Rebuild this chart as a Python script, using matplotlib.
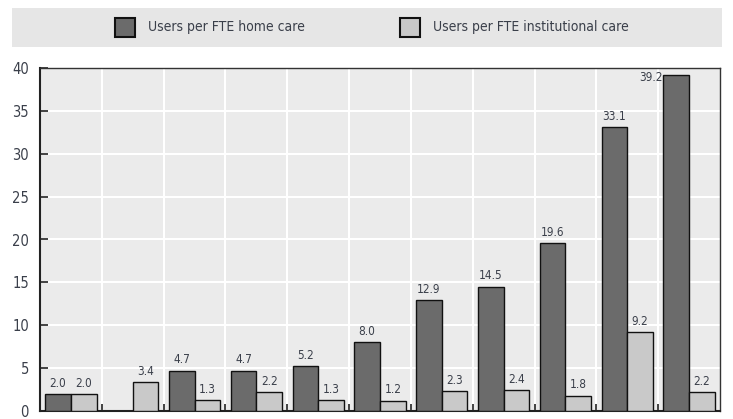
import numpy as np
import matplotlib
matplotlib.use("Agg")
import matplotlib.pyplot as plt
from matplotlib.patches import Rectangle

plt.rcParams['font.family'] = ['DejaVu Sans']
plt.rcParams['font.stretch'] = 'condensed'

# data (country labels are not shown in the picture)
groups = list(range(11))
home_care = [2.0, np.nan, 4.7, 4.7, 5.2, 8.0, 12.9, 14.5, 19.6, 33.1, 39.2]
inst_care = [2.0, 3.4, 1.3, 2.2, 1.3, 1.2, 2.3, 2.4, 1.8, 9.2, 2.2]
series_names = ['Users per FTE home care', 'Users per FTE institutional care']
yticks = [0, 5, 10, 15, 20, 25, 30, 35, 40]

dark = '#6b6b6b'
light = '#c9c9c9'
txt = '#3a3f4a'

fig = plt.figure(figsize=(7.33, 4.19), dpi=100)
ax = fig.add_axes([40/733, 1-411/419, 680/733, 343/419])
ax.set_facecolor('#ebebeb')

x = np.array(groups, dtype=float)
w = 0.415
ax.bar(x + 0.085, home_care, w, align='edge', color=dark, edgecolor='#111111', linewidth=1.0, zorder=3)
ax.bar(x + 0.085 + w, inst_care, w, align='edge', color=light, edgecolor='#111111', linewidth=1.0, zorder=3)

# value labels
for i, v in enumerate(home_care):
    if np.isnan(v):
        continue
    if v > 38:
        # no room above the last bar, label goes to its left
        ax.text(x[i] + 0.075, v - 0.3, f'{v:.1f}', ha='right', va='center', fontsize=8.5, color=txt, zorder=4)
    else:
        ax.text(x[i] + 0.085 + w/2, v + 0.5, f'{v:.1f}', ha='center', va='bottom', fontsize=8.5, color=txt, zorder=4)
for i, v in enumerate(inst_care):
    ax.text(x[i] + 0.085 + 1.5*w, v + 0.5, f'{v:.1f}', ha='center', va='bottom', fontsize=8.5, color=txt, zorder=4)

ax.set_xlim(0, 11)
ax.set_ylim(0, 40)
ax.set_yticks(yticks)
ax.set_xticks(np.arange(1, 11))
ax.set_xticklabels([])
ax.tick_params(axis='y', direction='in', length=6, width=1.2, colors='#222222', labelcolor=txt, labelsize=10.5, pad=8)
ax.tick_params(axis='x', direction='in', length=5, width=1.2, colors='#222222')
ax.grid(True, color='white', linewidth=1.5, zorder=0)
ax.set_axisbelow(True)
for side in ['left', 'bottom']:
    ax.spines[side].set_linewidth(1.5)
    ax.spines[side].set_color('#222222')
for side in ['top', 'right']:
    ax.spines[side].set_linewidth(1.0)
    ax.spines[side].set_color('#333333')

# legend band, drawn by hand
fig.patches.append(Rectangle((12/733, 1-47/419), 710/733, 39/419, transform=fig.transFigure,
                             facecolor='#e6e6e6', edgecolor='none', zorder=0))
for px, col, name in [(115, dark, series_names[0]), (400, light, series_names[1])]:
    fig.patches.append(Rectangle((px/733, 1-37/419), 20/733, 19/419, transform=fig.transFigure,
                                 facecolor=col, edgecolor='#111111', linewidth=1.5, zorder=2))
    fig.text((px + 33)/733, 1-27.5/419, name, ha='left', va='center', fontsize=10, color=txt)

fig.savefig('out.png', dpi=100)
